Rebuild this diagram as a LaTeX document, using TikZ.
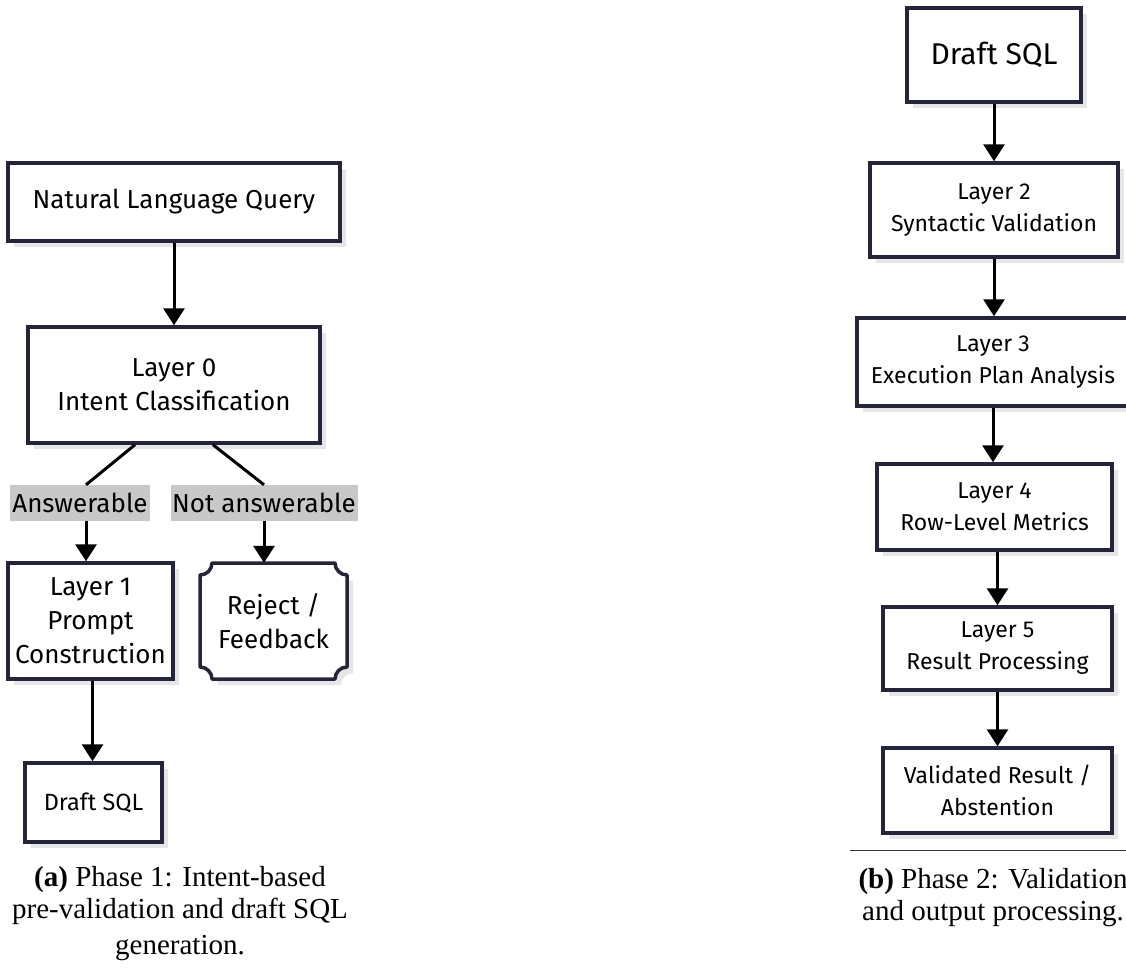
\documentclass[tikz,border=0pt]{standalone}
\usepackage{fontspec}
\setmainfont{Liberation Serif}
\newfontfamily\boxfont{Fira Sans}
\usetikzlibrary{arrows.meta,shadows,calc}
\definecolor{boxline}{HTML}{25253A}
\definecolor{labgray}{HTML}{C8C8C8}
\definecolor{shadowgray}{HTML}{E6E6E8}
\tikzset{
  box/.style={draw=boxline, line width=3.5pt, fill=white, align=center,
    inner sep=0pt, font=\boxfont\fontsize{26}{34}\selectfont,
    drop shadow={shadow xshift=6pt, shadow yshift=-6pt, fill=shadowgray, opacity=1}},
  rbox/.style={box, font=\boxfont\fontsize{23}{32}\selectfont},
  lab/.style={fill=labgray, inner sep=0pt, minimum height=36pt,
    font=\boxfont\fontsize{26}{30}\selectfont},
  arr/.style={line width=3pt, -{Triangle[width=21pt,length=17pt]}},
  link/.style={line width=3pt},
  captext/.style={align=center, font=\fontsize{29}{32}\selectfont}
}
\begin{document}
\begin{tikzpicture}[x=1pt,y=-1pt]
\useasboundingbox (0,0) rectangle (1126,967);
\fill[white] (0,0) rectangle (1126,967);
\clip (0,0) rectangle (1126,967);
% ---------- Phase 1 ----------
\node[box, minimum width=332pt, minimum height=78pt] (nlq) at (174,202) {Natural Language Query};
\node[box, minimum width=292pt, minimum height=116pt] (l0) at (174,385) {Layer 0\\Intent Classification};
\node[lab, minimum width=140pt] (ans) at (80,503) {Answerable};
\node[lab, minimum width=187pt] (nans) at (264,503) {Not answerable};
\node[box, minimum width=165pt, minimum height=116pt] (l1) at (90.5,621) {Layer 1\\Prompt\\Construction};
% reject shape (concave corners)
\fill[shadowgray] (218,569) -- (341,569) .. controls (341,575.6) and (346.4,581) .. (353,581)
  -- (353,673) .. controls (346.4,673) and (341,678.4) .. (341,685)
  -- (218,685) .. controls (218,678.4) and (212.6,673) .. (206,673)
  -- (206,581) .. controls (212.6,581) and (218,575.6) .. (218,569) -- cycle;
\draw[draw=boxline, line width=3.5pt, fill=white, line join=round]
  (212,563) -- (335,563) .. controls (335,569.6) and (340.4,575) .. (347,575)
  -- (347,667) .. controls (340.4,667) and (335,672.4) .. (335,679)
  -- (212,679) .. controls (212,672.4) and (206.6,667) .. (200,667)
  -- (200,575) .. controls (206.6,575) and (212,569.6) .. (212,563) -- cycle;
\node[align=center, inner sep=0pt, minimum width=147pt, minimum height=116pt,
  font=\boxfont\fontsize{26}{34}\selectfont] (rej) at (273.5,621) {Reject /\\Feedback};
\node[box, font=\boxfont\fontsize{23.5}{30}\selectfont, minimum width=137pt, minimum height=79pt] (d1) at (93.5,802.5) {Draft SQL};
\draw[arr] (nlq.south) -- (l0.north);
\draw[link] ([xshift=-39pt]l0.south) -- ([xshift=6pt]ans.north);
\draw[link] ([xshift=39pt]l0.south) -- (nans.north);
\draw[arr] ([xshift=6pt]ans.south) -- ([xshift=6pt]ans.south |- l1.north);
\draw[arr] (nans.south) -- (nans.south |- rej.north);
\draw[arr] ([xshift=2pt]l1.south) -- ([xshift=2pt]l1.south |- d1.north);
\node[captext] (capa) at (180,914) {\textbf{(a)} Phase 1: Intent-based\\pre-validation and draft SQL\\[4pt]generation.};
% ---------- Phase 2 ----------
\node[box, font=\boxfont\fontsize{30}{34}\selectfont, minimum width=174pt, minimum height=94pt] (d2) at (994,55) {Draft SQL};
\node[rbox, minimum width=248pt, minimum height=94pt] (l2) at (994,210) {Layer 2\\Syntactic Validation};
\node[rbox, minimum width=272pt, minimum height=88pt] (l3) at (993,362) {Layer 3\\Execution Plan Analysis};
\node[rbox, minimum width=235pt, minimum height=86pt] (l4) at (994.5,507) {Layer 4\\Row-Level Metrics};
\node[rbox, minimum width=229pt, minimum height=83pt] (l5) at (997.5,648.5) {Layer 5\\Result Processing};
\node[rbox, minimum width=229pt, minimum height=85pt] (val) at (997.5,790.5) {Validated Result /\\Abstention};
\draw[arr] (d2.south) -- (d2.south |- l2.north);
\draw[arr] (l2.south) -- (l2.south |- l3.north);
\draw[arr] (l3.south) -- (l3.south |- l4.north);
\draw[arr] (l5.north |- l4.south) -- (l5.north);
\draw[arr] (l5.south) -- (val.north);
\coordinate (hl) at (850,850);
\coordinate (hr) at (1126,850);
\draw[line width=1pt, black!80] (hl) -- (hr);
\node[captext] (capb) at (993,898) {\textbf{(b)} Phase 2: Validation\\and output processing.};
\end{tikzpicture}
\end{document}
